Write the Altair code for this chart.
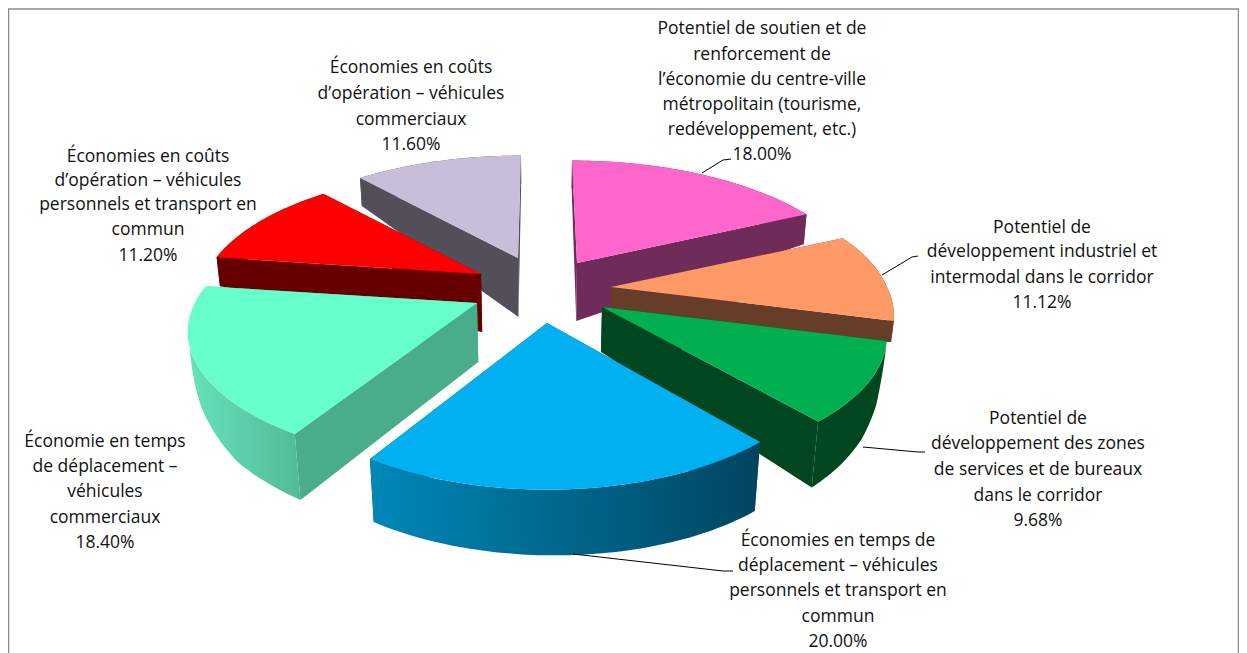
import math
import numpy as np
import pandas as pd
import altair as alt

# ---- data (clockwise from the top of the pie, in percent)
shares = [18.00, 11.12, 9.68, 20.00, 18.40, 11.20, 11.60]
label_lines = [
    ["Potentiel de soutien et de", "renforcement de", "l’économie du centre-ville", "métropolitain (tourisme,", "redéveloppement, etc.)", "18.00%"],
    ["Potentiel de", "développement industriel et", "intermodal dans le corridor", "11.12%"],
    ["Potentiel de", "développement des zones", "de services et de bureaux", "dans le corridor", "9.68%"],
    ["Économies en temps de", "déplacement – véhicules", "personnels et transport en", "commun", "20.00%"],
    ["Économie en temps", "de déplacement –", "véhicules", "commerciaux", "18.40%"],
    ["Économies en coûts", "d’opération – véhicules", "personnels et transport en", "commun", "11.20%"],
    ["Économies en coûts", "d’opération – véhicules", "commerciaux", "11.60%"],
]

# ---- styles
top_colors = ["#FF66CC", "#FF9966", "#00B050", "#00B0F0", "#66FFCC", "#FF0000", "#C8BEDA"]
radial_colors = ["#6F2C5A", "#663D29", "#00461F", "#004560", "#4AAD8A", "#660000", "#524F5A"]


def grad(a, b):
    return alt.LinearGradient(gradient="linear", x1=0, x2=1, y1=0, y2=0,
                              stops=[alt.GradientStop(color=a, offset=0), alt.GradientStop(color=b, offset=1)])


outer_fills = ["#6F2C5A", "#663D29", "#00461F", grad("#0088B8", "#00455F"),
               grad("#66E2BA", "#52BB98"), "#660000", "#524F5A"]

# ---- layout of the exploded perspective pie
radii = [280, 276, 278, 274, 282, 275, 280]
depths = [125, 125, 125, 130, 125, 125, 125]
P = 0.22
CX = 540.0
apexes = [(577, 263), (611, 287), (602, 307), (547, 323), (477, 303), (481, 274), (518, 258)]
leans = [-5, 8, 0, 0, 0, 0, 3]
apex_h = [58, 58, 45, 60, 59, 58, 59]
rim_h = [(28, 30, 30), (30, 25, 21), (0, 43, 56, 62, 66), (69, 66, 63), (66, 61, 44, 8, 0), (29, 28, 28), (28, 28, 28)]
draw_order = [6, 0, 5, 1, 4, 2, 3]

label_cx = [762, 1042, 1038, 838, 105, 148, 411]
label_ys = [
    [29, 55, 80, 105, 130, 155],
    [228, 252, 278, 303],
    [419, 444, 470, 496, 521],
    [541, 566, 591, 617, 642],
    [442, 467, 492, 518, 543],
    [157, 181, 205, 230, 256],
    [68, 94, 120, 145],
]
leaders = [
    [(702, 173), (723, 160), (731, 159)],
    [(882, 275), (912, 257), (918, 256)],
    [(863, 447), (918, 452), (925, 452)],
    [(573, 554), (723, 571), (733, 571)],
]

X = alt.X("x:Q", scale=alt.Scale(domain=[8, 1239], nice=False, zero=False), axis=None)
Y = alt.Y("y:Q", scale=alt.Scale(domain=[653, 8], nice=False, zero=False), axis=None)


def rim(i, theta):
    ax, ay = apexes[i]
    v = -math.cos(theta)
    s = 1 / (1 - P * v)
    return (ax + radii[i] * math.sin(theta) * s + leans[i] * max(0, -v), ay + depths[i] * v * s)


def drop(pt, h):
    return (pt[0] + (CX - pt[0]) * 0.00035 * h, pt[1] + h)


def poly(points, fill):
    df = pd.DataFrame(points + points[:1], columns=["x", "y"])
    df["i"] = range(len(df))
    return alt.Chart(df).mark_line(fill=fill, strokeWidth=0, interpolate="linear").encode(x=X, y=Y, order="i:Q")


layers = []
starts = np.cumsum([0] + shares[:-1]) * 2 * math.pi / sum(shares)
for i in draw_order:
    t0 = starts[i]
    t1 = t0 + shares[i] * 2 * math.pi / sum(shares)
    ts = np.linspace(t0, t1, 48)
    us = np.linspace(0, 1, 48)
    hs = np.interp(us, np.linspace(0, 1, len(rim_h[i])), rim_h[i])
    apex = apexes[i]
    top = [rim(i, t) for t in ts]
    bottom = [drop(p, h) for p, h in zip(top, hs)]
    apex_b = drop(apex, apex_h[i])
    layers.append(poly([apex, top[0], bottom[0], apex_b], radial_colors[i]))
    layers.append(poly([apex, top[-1], bottom[-1], apex_b], radial_colors[i]))
    layers.append(poly(top + bottom[::-1], outer_fills[i]))
    layers.append(poly([apex] + top, top_colors[i]))

for pts in leaders:
    df = pd.DataFrame(pts, columns=["x", "y"])
    df["i"] = range(len(df))
    layers.append(alt.Chart(df).mark_line(color="#000000", strokeWidth=1).encode(x=X, y=Y, order="i:Q"))

rows = []
for lines, cx, ys in zip(label_lines, label_cx, label_ys):
    for t, y in zip(lines, ys):
        rows.append({"x": cx, "y": y, "t": t})
layers.append(alt.Chart(pd.DataFrame(rows)).mark_text(
    font="Open Sans", fontSize=17.5, align="center", baseline="middle", color="#111111"
).encode(x=X, y=Y, text="t:N"))

frame = pd.DataFrame({"x": [8.5, 8.5, 1238.5, 1238.5], "y": [653, 9, 9, 653], "i": [0, 1, 2, 3]})
layers.append(alt.Chart(frame).mark_line(color="#8C8C8C", strokeWidth=1.5).encode(x=X, y=Y, order="i:Q"))

chart = alt.layer(*layers).properties(
    width=1231, height=645, padding=0, background="#FFFFFF",
    autosize=alt.AutoSizeParams(type="none"),
).configure_view(stroke=None)

chart.save("out.html", embed_options={"renderer": "svg", "actions": False})
